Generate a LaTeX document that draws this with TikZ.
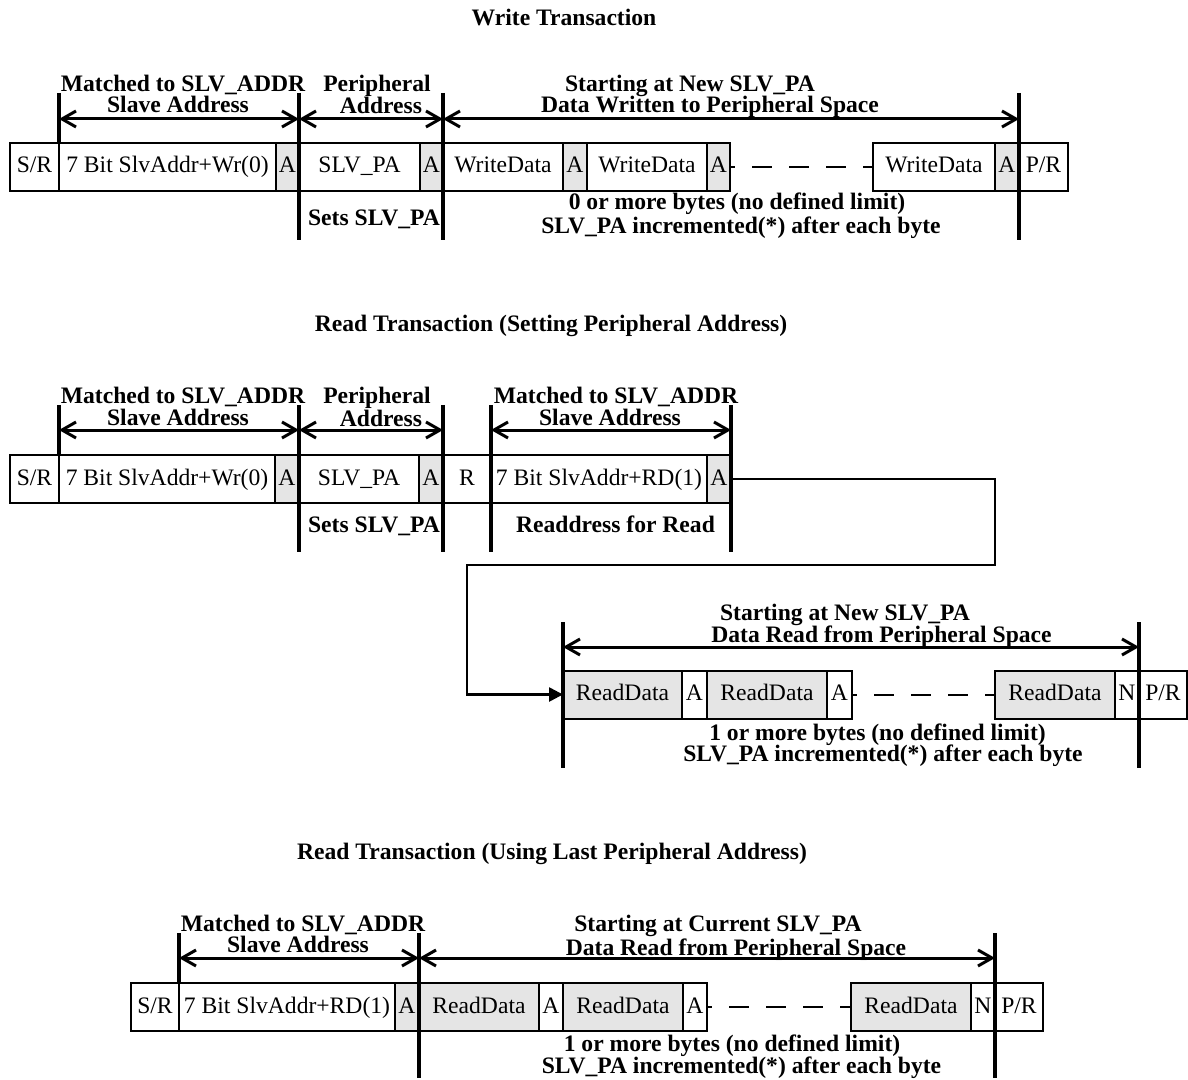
\documentclass[tikz,border=0pt]{standalone}
\usepackage{fontspec}
\setmainfont{Liberation Serif}
\usepackage{xcolor}
\usepackage{tikz}
\usetikzlibrary{arrows.meta,positioning}

\definecolor{ackgray}{gray}{0.9}
\newcommand{\cellfont}{\fontsize{11.8}{13}\selectfont}
\newcommand{\notefont}{\fontsize{11.8}{13}\selectfont\bfseries}

\begin{document}
\begin{tikzpicture}[x=0.5pt, y=-0.5pt,
    field/.style={draw, line width=1pt, outer sep=0pt, inner sep=0pt,
        minimum height=24pt, text height=8pt, text depth=2pt, font=\cellfont},
    ack/.style={field, fill=ackgray},
    wide/.style={minimum width=#1*0.5pt},
    tick/.style={line width=1.6pt},
    span/.style={line width=1.5pt,
        {Straight Barb[length=7pt,width=8pt]}-{Straight Barb[length=7pt,width=8pt]}},
    lbl/.style={anchor=base, inner sep=0pt, font=\notefont},
    link/.style={line width=1.3pt, -{Triangle[length=7pt,width=7pt]}},
    dots/.style={line width=1pt, dash pattern=on 10pt off 8.5pt, dash phase=7.5pt}]
    \useasboundingbox (0,0) rectangle (1188,1080);

    \node[lbl] (t1) at (564,26) {Write Transaction};
    \node[lbl] (t2) at (551,332) {Read Transaction (Setting Peripheral Address)};
    \node[lbl] (t3) at (552,859) {Read Transaction (Using Last Peripheral Address)};

    \node[field, wide=49, anchor=west] (wsr) at (10,167) {S/R};
    \node[field, wide=217, right=0pt of wsr] (wsa) {7 Bit SlvAddr+Wr(0)};
    \node[ack, wide=23, right=0pt of wsa] (wa0) {A};
    \node[field, wide=121, right=0pt of wa0] (wpa) {SLV\_PA};
    \node[ack, wide=23, right=0pt of wpa] (wa1) {A};
    \node[field, wide=120, right=0pt of wa1] (wd1) {WriteData};
    \node[ack, wide=24, right=0pt of wd1] (wa2) {A};
    \node[field, wide=120, right=0pt of wa2] (wd2) {WriteData};
    \node[ack, wide=23, right=0pt of wd2] (wa3) {A};
    \node[field, wide=122, right=71.5pt of wa3] (wdn) {WriteData};
    \node[ack, wide=24, right=0pt of wdn] (wan) {A};
    \node[field, wide=49, right=0pt of wan] (wpr) {P/R};
    \draw[dots] (wa3.east) -- (wdn.west);

    \coordinate (top1) at (0,93);
    \coordinate (arr1) at (0,119);
    \coordinate (bot1) at (0,240);
    \draw[tick] (wsa.north west |- top1) -- (wsa.north west);
    \draw[tick] (wpa.west |- top1) -- (wpa.west |- bot1);
    \draw[tick] (wd1.west |- top1) -- (wd1.west |- bot1);
    \draw[tick] (wpr.west |- top1) -- (wpr.west |- bot1);
    \draw[span] (wsa.west |- arr1) -- (wpa.west |- arr1);
    \draw[span] (wpa.west |- arr1) -- (wd1.west |- arr1);
    \draw[span] (wd1.west |- arr1) -- (wpr.west |- arr1);

    \node[lbl] (wm1) at (183,92) {Matched to SLV\_ADDR};
    \node[lbl] (wm2) at (178,113) {Slave Address};
    \node[lbl] (wp1) at (377,92) {Peripheral};
    \node[lbl] (wp2) at (381,114) {Address};
    \node[lbl] (ws1) at (690,92) {Starting at New SLV\_PA};
    \node[lbl] (ws2) at (710,113) {Data Written to Peripheral Space};
    \node[lbl] (wset) at (374,226) {Sets SLV\_PA};
    \node[lbl] (wb1) at (737,210) {0 or more bytes (no defined limit)};
    \node[lbl] (wb2) at (741,234) {SLV\_PA incremented(*) after each byte};

    \node[field, wide=49, anchor=west] (rsr) at (10,479) {S/R};
    \node[field, wide=216, right=0pt of rsr] (rsa) {7 Bit SlvAddr+Wr(0)};
    \node[ack, wide=24, right=0pt of rsa] (ra0) {A};
    \node[field, wide=120, right=0pt of ra0] (rpa) {SLV\_PA};
    \node[ack, wide=24, right=0pt of rpa] (ra1) {A};
    \node[field, wide=48, right=0pt of ra1] (rr) {R};
    \node[field, wide=216, right=0pt of rr] (rsd) {7 Bit SlvAddr+RD(1)};
    \node[ack, wide=24, right=0pt of rsd] (ra2) {A};

    \coordinate (top2) at (0,405);
    \coordinate (arr2) at (0,430);
    \coordinate (bot2) at (0,552);
    \draw[tick] (rsa.north west |- top2) -- (rsa.north west);
    \draw[tick] (rpa.west |- top2) -- (rpa.west |- bot2);
    \draw[tick] (rr.west |- top2) -- (rr.west |- bot2);
    \draw[tick] (rsd.west |- top2) -- (rsd.west |- bot2);
    \draw[tick] (ra2.east |- top2) -- (ra2.east |- bot2);
    \draw[span] (rsa.west |- arr2) -- (rpa.west |- arr2);
    \draw[span] (rpa.west |- arr2) -- (rr.west |- arr2);
    \draw[span] (rsd.west |- arr2) -- (ra2.east |- arr2);

    \node[lbl] (rm1) at (183,403) {Matched to SLV\_ADDR};
    \node[lbl] (rm2) at (178,425) {Slave Address};
    \node[lbl] (rp1) at (377,403) {Peripheral};
    \node[lbl] (rp2) at (381,426) {Address};
    \node[lbl] (rn1) at (616,403) {Matched to SLV\_ADDR};
    \node[lbl] (rn2) at (610,425) {Slave Address};
    \node[lbl] (rset) at (374,532) {Sets SLV\_PA};
    \node[lbl] (rre) at (615.5,532) {Readdress for Read};

    \node[ack, wide=119, anchor=west] (cd1) at (563,694.5) {ReadData};
    \node[field, wide=25, right=0pt of cd1] (ca1) {A};
    \node[ack, wide=120, right=0pt of ca1] (cd2) {ReadData};
    \node[field, wide=25, right=0pt of cd2] (ca2) {A};
    \node[ack, wide=120, right=71.5pt of ca2] (cdn) {ReadData};
    \node[field, wide=24, right=0pt of cdn] (cn) {N};
    \node[field, wide=48, right=0pt of cn] (cpr) {P/R};
    \draw[dots] (ca2.east) -- (cdn.west);

    \coordinate (bend1) at (995,565);
    \coordinate (bend2) at (467,565);
    \draw[link] (ra2.east) -| (bend1) -- (bend2) |- (cd1.west);

    \coordinate (top3) at (0,622);
    \coordinate (arr3) at (0,647);
    \coordinate (bot3) at (0,768);
    \draw[tick] (cd1.west |- top3) -- (cd1.west |- bot3);
    \draw[tick] (cpr.west |- top3) -- (cpr.west |- bot3);
    \draw[span] (cd1.west |- arr3) -- (cpr.west |- arr3);

    \node[lbl] (cs1) at (845,620) {Starting at New SLV\_PA};
    \node[lbl] (cs2) at (881.5,642) {Data Read from Peripheral Space};
    \node[lbl] (cb1) at (877.5,740) {1 or more bytes (no defined limit)};
    \node[lbl] (cb2) at (883,761) {SLV\_PA incremented(*) after each byte};

    \node[field, wide=48, anchor=west] (usr) at (131,1007) {S/R};
    \node[field, wide=216, right=0pt of usr] (usd) {7 Bit SlvAddr+RD(1)};
    \node[ack, wide=24, right=0pt of usd] (ua0) {A};
    \node[ack, wide=120, right=0pt of ua0] (ud1) {ReadData};
    \node[field, wide=24, right=0pt of ud1] (ua1) {A};
    \node[ack, wide=120, right=0pt of ua1] (ud2) {ReadData};
    \node[field, wide=24, right=0pt of ud2] (ua2) {A};
    \node[ack, wide=120, right=72pt of ua2] (udn) {ReadData};
    \node[field, wide=24, right=0pt of udn] (un) {N};
    \node[field, wide=48, right=0pt of un] (upr) {P/R};
    \draw[dots] (ua2.east) -- (udn.west);

    \coordinate (top4) at (0,933);
    \coordinate (arr4) at (0,958);
    \coordinate (bot4) at (0,1078);
    \draw[tick] (usd.north west |- top4) -- (usd.north west);
    \draw[tick] (ud1.west |- top4) -- (ud1.west |- bot4);
    \draw[tick] (upr.west |- top4) -- (upr.west |- bot4);
    \draw[span] (usd.west |- arr4) -- (ud1.west |- arr4);
    \draw[span] (ud1.west |- arr4) -- (upr.west |- arr4);

    \node[lbl] (um1) at (303,931.7) {Matched to SLV\_ADDR};
    \node[lbl] (um2) at (298,952.7) {Slave Address};
    \node[lbl] (us1) at (718,931.7) {Starting at Current SLV\_PA};
    \node[lbl] (us2) at (736,955) {Data Read from Peripheral Space};
    \node[lbl] (ub1) at (732,1051.7) {1 or more bytes (no defined limit)};
    \node[lbl] (ub2) at (741.5,1073) {SLV\_PA incremented(*) after each byte};
\end{tikzpicture}
\end{document}
